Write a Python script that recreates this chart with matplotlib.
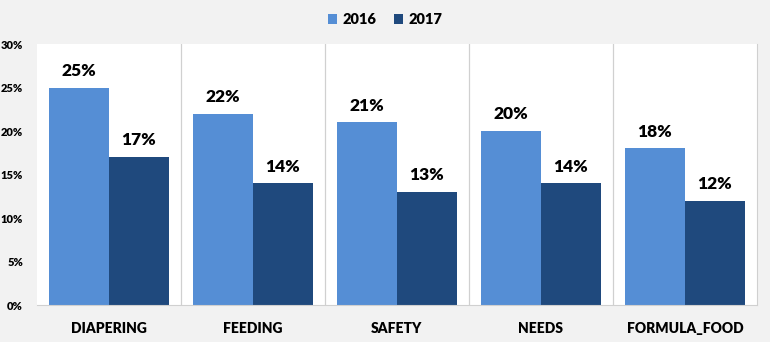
import numpy as np
from matplotlib import pyplot as plt

categories = ["DIAPERING", "FEEDING", "SAFETY", "NEEDS", "FORMULA_FOOD"]
values_2016 = [25, 22, 21, 20, 18]
values_2017 = [17, 14, 13, 14, 12]
years = ["2016", "2017"]
colors = ["#558ED5", "#1F497D"]

plt.rcParams['font.family'] = ['Lato', 'DejaVu Sans']

fig = plt.figure(figsize=(7.7, 3.42), dpi=100, facecolor="#f2f2f2")
ax = fig.add_axes([0.048, 0.108, 0.935, 0.763])
ax.set_facecolor("white")

x = np.arange(len(categories))
width = 0.4167

bars1 = ax.bar(x - width / 2, values_2016, width=width, color=colors[0], label=years[0])
bars2 = ax.bar(x + width / 2, values_2017, width=width, color=colors[1], label=years[1])

for bars, vals in [(bars1, values_2016), (bars2, values_2017)]:
    for bar, v in zip(bars, vals):
        ax.text(bar.get_x() + bar.get_width() / 2, v + 1.0, f"{v}%",
                ha='center', va='bottom', fontsize=12.5, fontweight='heavy', color="black")

# separators between categories
for i in range(1, len(categories)):
    ax.axvline(i - 0.5, color="#d0d0d0", linewidth=0.9)

ax.set_xlim(-0.5, len(categories) - 0.5)
ax.set_ylim(0, 30)
ax.set_yticks(range(0, 31, 5))
ax.set_yticklabels([f"{t}%" for t in range(0, 31, 5)], fontsize=8, fontweight='heavy')
ax.set_xticks(x)
ax.set_xticklabels(categories, fontsize=10, fontweight='heavy')
ax.tick_params(axis='both', length=0)
ax.tick_params(axis='x', pad=12)
ax.tick_params(axis='y', pad=10)

for side in ["top", "left"]:
    ax.spines[side].set_visible(False)
ax.spines["bottom"].set_color("#d0d0d0")
ax.spines["right"].set_color("#d0d0d0")

leg = fig.legend(loc='upper center', bbox_to_anchor=(0.5, 1.0), ncol=2, frameon=False,
                 handlelength=0.6, handleheight=0.6, columnspacing=1.2, handletextpad=0.4,
                 prop={'size': 10.5, 'weight': 'heavy'})

fig.savefig("out.png", dpi=100, facecolor=fig.get_facecolor())
